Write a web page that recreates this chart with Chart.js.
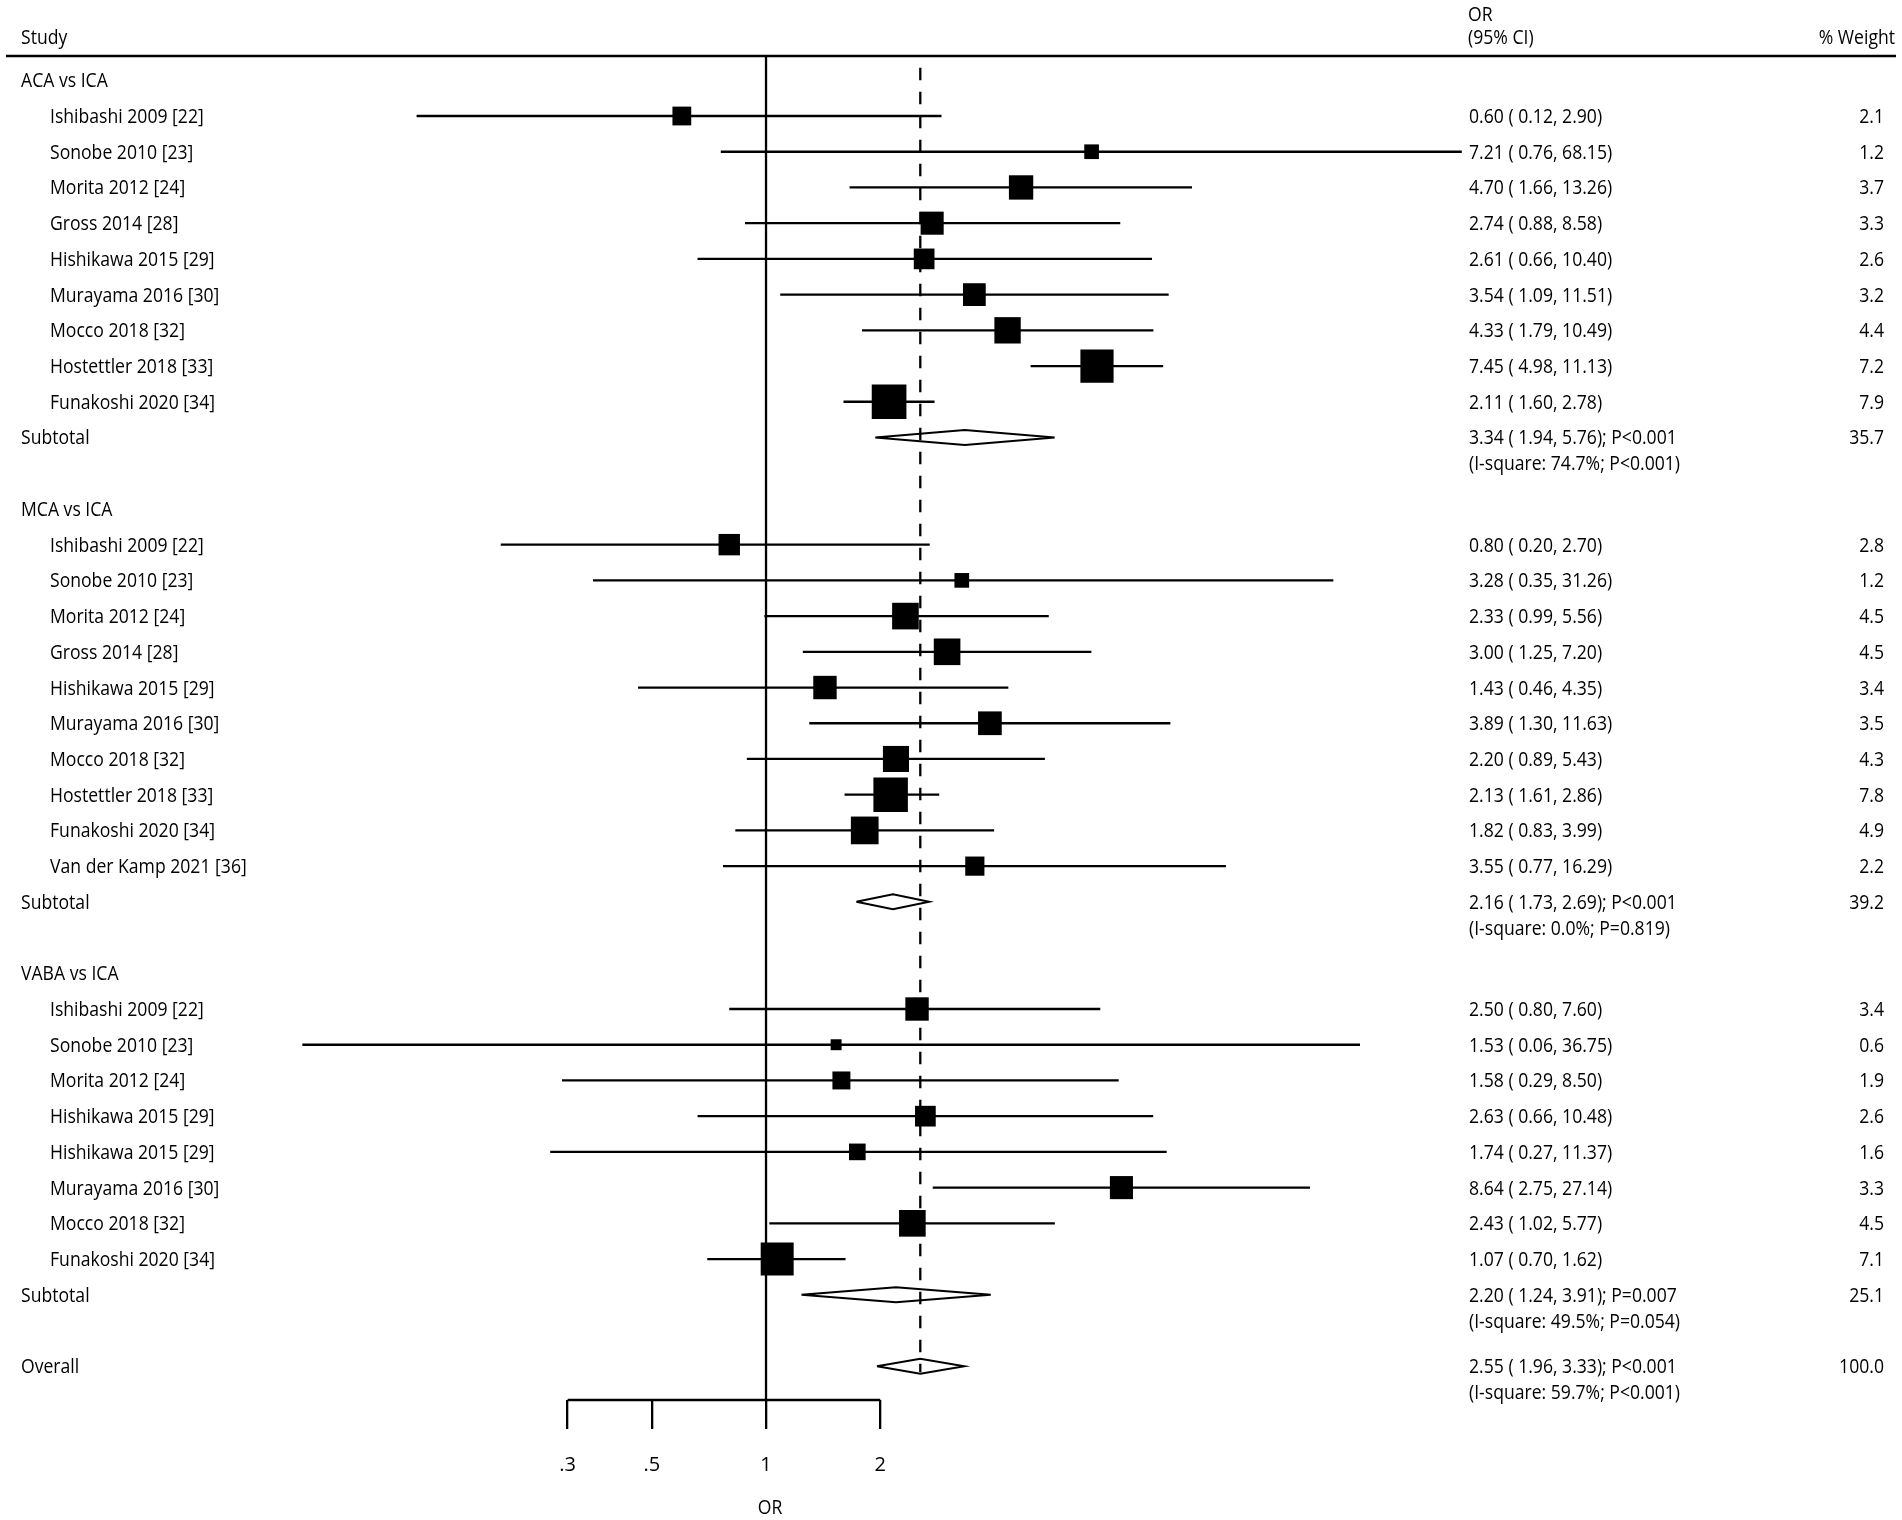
<!DOCTYPE html>
<html>
<head>
<meta charset="utf-8">
<title>Forest plot - OR by aneurysm location</title>
<script src="https://cdn.jsdelivr.net/npm/chart.js@4.4.1/dist/chart.umd.min.js"></script>
<style>
  html, body { margin: 0; padding: 0; background: #ffffff; }
  #wrap { position: relative; width: 1902px; height: 1520px; }
</style>
</head>
<body>
<div id="wrap"><canvas id="forest"></canvas></div>
<script>
// ---- data ----
const group_names = ["ACA vs ICA", "MCA vs ICA", "VABA vs ICA"];

const aca_studies = ["Ishibashi 2009 [22]", "Sonobe 2010 [23]", "Morita 2012 [24]", "Gross 2014 [28]", "Hishikawa 2015 [29]", "Murayama 2016 [30]", "Mocco 2018 [32]", "Hostettler 2018 [33]", "Funakoshi 2020 [34]"];
const aca_or     = [0.60, 7.21, 4.70, 2.74, 2.61, 3.54, 4.33, 7.45, 2.11];
const aca_lower  = [0.12, 0.76, 1.66, 0.88, 0.66, 1.09, 1.79, 4.98, 1.60];
const aca_upper  = [2.90, 68.15, 13.26, 8.58, 10.40, 11.51, 10.49, 11.13, 2.78];
const aca_weight = [2.1, 1.2, 3.7, 3.3, 2.6, 3.2, 4.4, 7.2, 7.9];

const mca_studies = ["Ishibashi 2009 [22]", "Sonobe 2010 [23]", "Morita 2012 [24]", "Gross 2014 [28]", "Hishikawa 2015 [29]", "Murayama 2016 [30]", "Mocco 2018 [32]", "Hostettler 2018 [33]", "Funakoshi 2020 [34]", "Van der Kamp 2021 [36]"];
const mca_or     = [0.80, 3.28, 2.33, 3.00, 1.43, 3.89, 2.20, 2.13, 1.82, 3.55];
const mca_lower  = [0.20, 0.35, 0.99, 1.25, 0.46, 1.30, 0.89, 1.61, 0.83, 0.77];
const mca_upper  = [2.70, 31.26, 5.56, 7.20, 4.35, 11.63, 5.43, 2.86, 3.99, 16.29];
const mca_weight = [2.8, 1.2, 4.5, 4.5, 3.4, 3.5, 4.3, 7.8, 4.9, 2.2];

const vaba_studies = ["Ishibashi 2009 [22]", "Sonobe 2010 [23]", "Morita 2012 [24]", "Hishikawa 2015 [29]", "Hishikawa 2015 [29]", "Murayama 2016 [30]", "Mocco 2018 [32]", "Funakoshi 2020 [34]"];
const vaba_or     = [2.50, 1.53, 1.58, 2.63, 1.74, 8.64, 2.43, 1.07];
const vaba_lower  = [0.80, 0.06, 0.29, 0.66, 0.27, 2.75, 1.02, 0.70];
const vaba_upper  = [7.60, 36.75, 8.50, 10.48, 11.37, 27.14, 5.77, 1.62];
const vaba_weight = [3.4, 0.6, 1.9, 2.6, 1.6, 3.3, 4.5, 7.1];

const subtotal_or     = [3.34, 2.16, 2.20];
const subtotal_lower  = [1.94, 1.73, 1.24];
const subtotal_upper  = [5.76, 2.69, 3.91];
const subtotal_weight = [35.7, 39.2, 25.1];
const subtotal_p      = ["P<0.001", "P<0.001", "P=0.007"];
const subtotal_isq    = [74.7, 0.0, 49.5];
const subtotal_het_p  = ["P<0.001", "P=0.819", "P=0.054"];

const overall_or = 2.55;
const overall_lower = 1.96;
const overall_upper = 3.33;
const overall_weight = 100.0;
const overall_p = "P<0.001";
const overall_isq = 59.7;
const overall_het_p = "P<0.001";

const tick_values = [0.3, 0.5, 1, 2];
const tick_labels = [".3", ".5", "1", "2"];
const axis_title = "OR";

// ---- layout constants ----
const ROW_TOP = -0.68;      // y value at header rule
const ROW_BOTTOM = 36.946;  // y value at the axis line
const TEXT_FONT = '20px "Open Sans"';
const TEXT_SQUEEZE = 0.88;

const groups = [
    { name: group_names[0], studies: aca_studies, or: aca_or, lo: aca_lower, hi: aca_upper, w: aca_weight },
    { name: group_names[1], studies: mca_studies, or: mca_or, lo: mca_lower, hi: mca_upper, w: mca_weight },
    { name: group_names[2], studies: vaba_studies, or: vaba_or, lo: vaba_lower, hi: vaba_upper, w: vaba_weight }
];

function ci_text(or, lo, hi)
{
    return or.toFixed(2) + " ( " + lo.toFixed(2) + ", " + hi.toFixed(2) + ")";
}

function square_side(w)
{
    return 11.66 * Math.sqrt(w) + 1.9;
}

function diamond(or, lo, hi, r)
{
    return [{ x: lo, y: r }, { x: or, y: r - 0.21 }, { x: hi, y: r }, { x: or, y: r + 0.21 }, { x: lo, y: r }];
}

const ci_sets = [];
const diamond_sets = [];
const square_points = [];
const square_radius = [];
const text_rows = [];

let row = 0;
groups.forEach(function (g, gi)
{
    text_rows.push({ row: row, label: g.name, indent: false });
    for (let i = 0; i < g.studies.length; i++)
    {
        const r = row + 1 + i;
        ci_sets.push([{ x: g.lo[i], y: r }, { x: g.hi[i], y: r }]);
        square_points.push({ x: g.or[i], y: r });
        square_radius.push(square_side(g.w[i]) / (2 * Math.SQRT1_2));
        text_rows.push({ row: r, label: g.studies[i], indent: true, ci: ci_text(g.or[i], g.lo[i], g.hi[i]), weight: g.w[i].toFixed(1) });
    }
    const sr = row + 1 + g.studies.length;
    diamond_sets.push(diamond(subtotal_or[gi], subtotal_lower[gi], subtotal_upper[gi], sr));
    text_rows.push({
        row: sr, label: "Subtotal", indent: false,
        ci: ci_text(subtotal_or[gi], subtotal_lower[gi], subtotal_upper[gi]) + "; " + subtotal_p[gi],
        weight: subtotal_weight[gi].toFixed(1),
        sub: "(I-square: " + subtotal_isq[gi].toFixed(1) + "%; " + subtotal_het_p[gi] + ")"
    });
    row = sr + 2;
});
const overall_row = row;
diamond_sets.push(diamond(overall_or, overall_lower, overall_upper, overall_row));
text_rows.push({
    row: overall_row, label: "Overall", indent: false,
    ci: ci_text(overall_or, overall_lower, overall_upper) + "; " + overall_p,
    weight: overall_weight.toFixed(1),
    sub: "(I-square: " + overall_isq.toFixed(1) + "%; " + overall_het_p + ")"
});

// ---- datasets ----
const datasets = [];

datasets.push({
    label: "studies",
    data: square_points,
    showLine: false,
    pointStyle: "rect",
    pointRadius: square_radius,
    pointHoverRadius: square_radius,
    pointBackgroundColor: "#000000",
    pointBorderWidth: 0,
    order: 0,
    clip: false
});

diamond_sets.forEach(function (d)
{
    datasets.push({ data: d, showLine: true, borderColor: "#000000", borderWidth: 2, pointRadius: 0, fill: false, order: 1, clip: false });
});

ci_sets.forEach(function (c)
{
    datasets.push({ data: c, showLine: true, borderColor: "#000000", borderWidth: 2.3, pointRadius: 0, order: 2, clip: false });
});

// null line at OR = 1
datasets.push({ data: [{ x: 1, y: ROW_TOP }, { x: 1, y: ROW_BOTTOM }], showLine: true, borderColor: "#000000", borderWidth: 2.3, pointRadius: 0, order: 3, clip: false });
// overall estimate, dashed
datasets.push({ data: [{ x: overall_or, y: -0.353 }, { x: overall_or, y: overall_row + 0.17 }], showLine: true, borderColor: "#000000", borderWidth: 2.3, borderDash: [12.5, 11.5], pointRadius: 0, order: 3, clip: false });
// axis base line between the outer ticks
datasets.push({ data: [{ x: tick_values[0], y: ROW_BOTTOM }, { x: tick_values[tick_values.length - 1], y: ROW_BOTTOM }], showLine: true, borderColor: "#000000", borderWidth: 2.5, pointRadius: 0, order: 3, clip: false });

function put_text(ctx, s, x, y, align)
{
    ctx.save();
    ctx.translate(x, y);
    ctx.scale(TEXT_SQUEEZE, 1);
    ctx.textAlign = align;
    ctx.textBaseline = "alphabetic";
    ctx.fillText(s, 0, 0);
    ctx.restore();
}

const forest_text =
{
    id: "forest_text",
    afterDraw(chart)
    {
        const ctx = chart.ctx;
        const x_scale = chart.scales.x;
        const y_scale = chart.scales.y;
        const area = chart.chartArea;

        ctx.save();
        // header rule
        ctx.strokeStyle = "#000000";
        ctx.lineWidth = 2.6;
        ctx.beginPath();
        ctx.moveTo(6, area.top);
        ctx.lineTo(1896, area.top);
        ctx.stroke();

        ctx.fillStyle = "#000000";
        ctx.font = TEXT_FONT;
        put_text(ctx, "Study", 21, 44, "left");
        put_text(ctx, "OR", 1468, 21, "left");
        put_text(ctx, "(95% CI)", 1468, 44, "left");
        put_text(ctx, "% Weight", 1895, 44, "right");

        text_rows.forEach(function (t)
        {
            const py = y_scale.getPixelForValue(t.row) + 7;
            put_text(ctx, t.label, t.indent ? 50 : 21, py, "left");
            if (t.ci) put_text(ctx, t.ci, 1469, py, "left");
            if (t.weight) put_text(ctx, t.weight, 1884, py, "right");
            if (t.sub) put_text(ctx, t.sub, 1469, py + 26, "left");
        });

        // axis title sits under the null line
        put_text(ctx, axis_title, x_scale.getPixelForValue(1) + 4, area.bottom + 114, "center");
        ctx.restore();
    }
};

Chart.defaults.font.family = '"Open Sans"';
Chart.defaults.color = "#000000";

new Chart(document.getElementById("forest"),
{
    type: "scatter",
    data: { datasets: datasets },
    options:
    {
        responsive: true,
        maintainAspectRatio: false,
        animation: false,
        events: [],
        // plot area spans OR 0.05 .. 100 so that OR = 1 lands at x = 766
        layout: { padding: { left: 272.3, right: 377, top: 56, bottom: 19 } },
        plugins:
        {
            legend: { display: false },
            tooltip: { enabled: false }
        },
        scales:
        {
            x:
            {
                type: "logarithmic",
                position: "bottom",
                min: 0.05,
                max: 100,
                afterBuildTicks: function (axis)
                {
                    axis.ticks = tick_values.map(function (v) { return { value: v }; });
                },
                ticks:
                {
                    autoSkip: false,
                    maxRotation: 0,
                    padding: 24,
                    color: "#000000",
                    font: { size: 20, lineHeight: 1.2 },
                    callback: function (value, index) { return tick_labels[index]; }
                },
                grid:
                {
                    display: true,
                    drawOnChartArea: false,
                    drawTicks: true,
                    tickLength: 29,
                    color: "#000000",
                    lineWidth: 2.3
                },
                border: { display: false },
                title: { display: false }
            },
            y:
            {
                type: "linear",
                display: false,
                reverse: true,
                min: ROW_TOP,
                max: ROW_BOTTOM
            }
        }
    },
    plugins: [forest_text]
});
</script>
</body>
</html>
